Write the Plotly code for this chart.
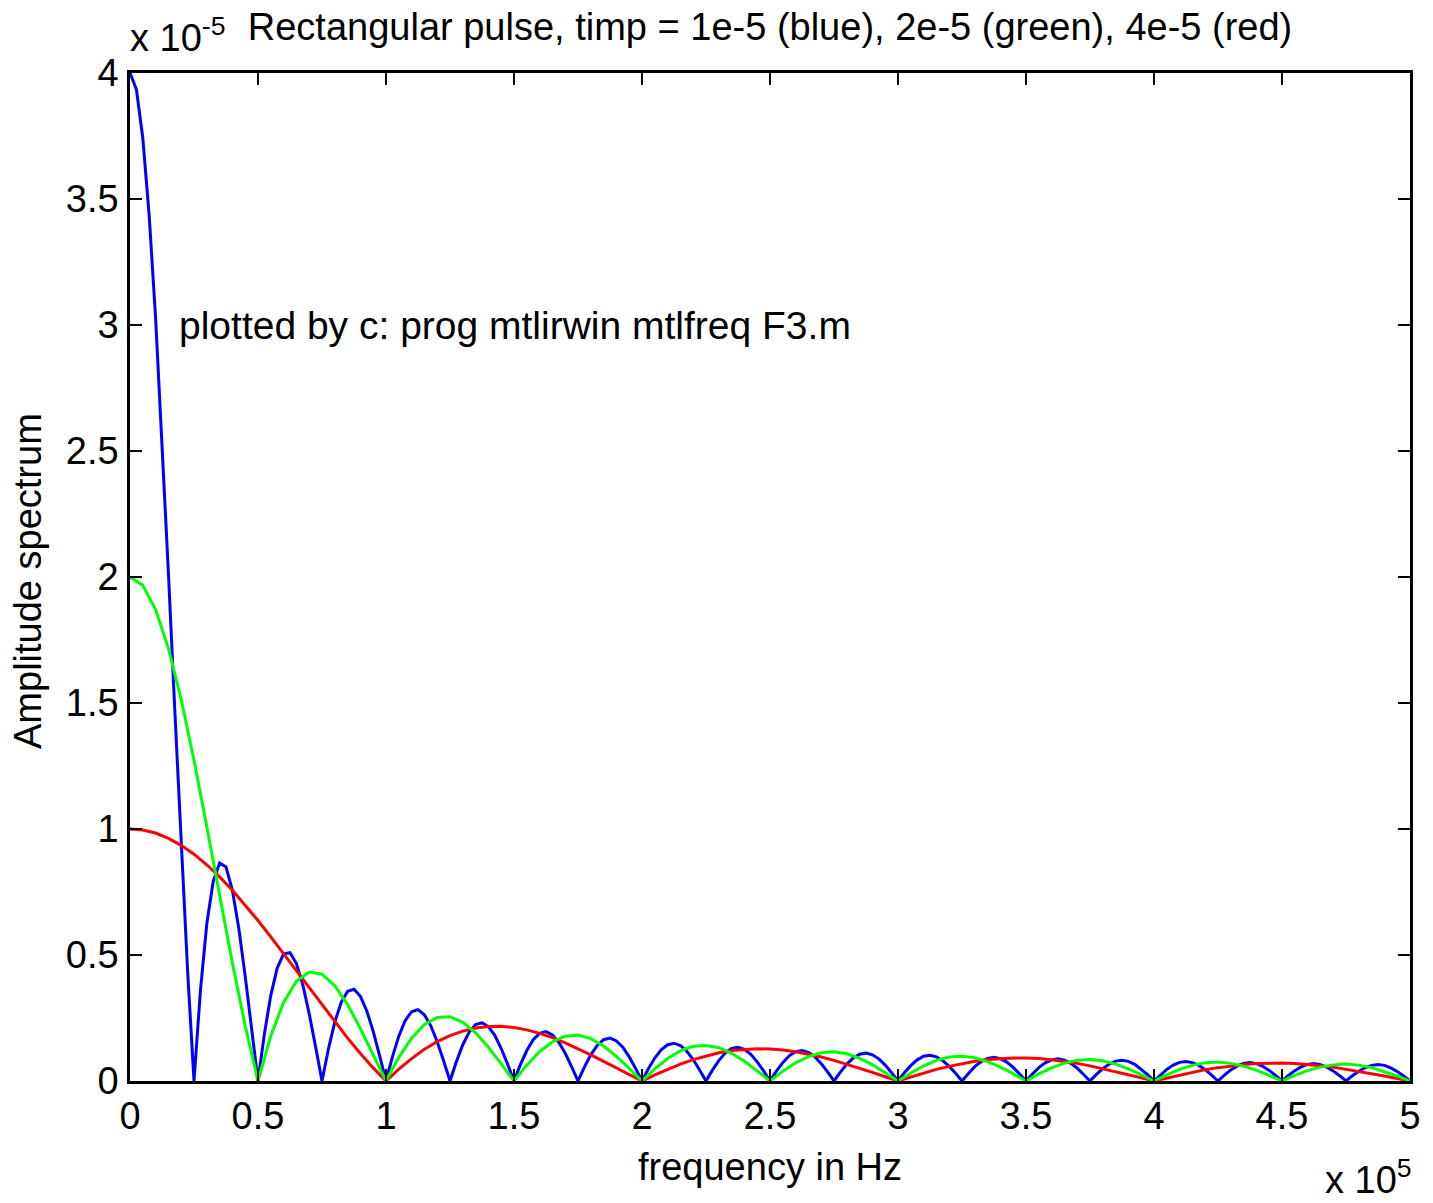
import plotly.graph_objects as go

# ---------------- data (amplitudes in units of 1e-5, frequency in kHz) ----------------
FREQ_STEP_BLUE_KHZ = 2.5
FREQ_STEP_GREEN_KHZ = 5.0
FREQ_STEP_RED_KHZ = 5.0

blue_amp = [
    4.000, 3.935, 3.742, 3.434, 3.027, 2.546, 2.018, 1.472, 0.935, 0.437,
    0.000, 0.358, 0.624, 0.792, 0.865, 0.849, 0.757, 0.606, 0.416, 0.207,
    0.000, 0.187, 0.340, 0.448, 0.505, 0.509, 0.466, 0.382, 0.267, 0.136,
    0.000, 0.127, 0.234, 0.312, 0.356, 0.364, 0.336, 0.278, 0.197, 0.101,
    0.000, 0.096, 0.178, 0.240, 0.275, 0.283, 0.263, 0.219, 0.156, 0.080,
    0.000, 0.077, 0.144, 0.194, 0.224, 0.231, 0.216, 0.181, 0.129, 0.067,
    0.000, 0.065, 0.121, 0.164, 0.189, 0.196, 0.183, 0.154, 0.110, 0.057,
    0.000, 0.055, 0.104, 0.141, 0.164, 0.170, 0.159, 0.134, 0.096, 0.050,
    0.000, 0.049, 0.091, 0.124, 0.144, 0.150, 0.141, 0.118, 0.085, 0.044,
    0.000, 0.043, 0.081, 0.111, 0.129, 0.134, 0.126, 0.106, 0.076, 0.040,
    0.000, 0.039, 0.073, 0.100, 0.116, 0.121, 0.114, 0.096, 0.069, 0.036,
    0.000, 0.035, 0.067, 0.091, 0.106, 0.111, 0.104, 0.088, 0.063, 0.033,
    0.000, 0.033, 0.061, 0.084, 0.098, 0.102, 0.096, 0.081, 0.058, 0.031,
    0.000, 0.030, 0.057, 0.077, 0.090, 0.094, 0.089, 0.075, 0.054, 0.028,
    0.000, 0.028, 0.053, 0.072, 0.084, 0.088, 0.083, 0.070, 0.051, 0.026,
    0.000, 0.026, 0.049, 0.067, 0.079, 0.082, 0.078, 0.066, 0.047, 0.025,
    0.000, 0.024, 0.046, 0.063, 0.074, 0.077, 0.073, 0.062, 0.045, 0.023,
    0.000, 0.023, 0.044, 0.060, 0.070, 0.073, 0.069, 0.058, 0.042, 0.022,
    0.000, 0.022, 0.041, 0.056, 0.066, 0.069, 0.065, 0.055, 0.040, 0.021,
    0.000, 0.021, 0.039, 0.053, 0.062, 0.065, 0.062, 0.052, 0.038, 0.020,
    0.000,
]

green_amp = [
    2.000, 1.967, 1.871, 1.717, 1.514, 1.273, 1.009, 0.736, 0.468, 0.219,
    0.000, 0.179, 0.312, 0.396, 0.432, 0.424, 0.378, 0.303, 0.208, 0.104,
    0.000, 0.094, 0.170, 0.224, 0.252, 0.255, 0.233, 0.191, 0.134, 0.068,
    0.000, 0.063, 0.117, 0.156, 0.178, 0.182, 0.168, 0.139, 0.098, 0.050,
    0.000, 0.048, 0.089, 0.120, 0.138, 0.141, 0.132, 0.110, 0.078, 0.040,
    0.000, 0.039, 0.072, 0.097, 0.112, 0.116, 0.108, 0.090, 0.065, 0.033,
    0.000, 0.032, 0.060, 0.082, 0.095, 0.098, 0.092, 0.077, 0.055, 0.029,
    0.000, 0.028, 0.052, 0.071, 0.082, 0.085, 0.080, 0.067, 0.048, 0.025,
    0.000, 0.024, 0.046, 0.062, 0.072, 0.075, 0.070, 0.059, 0.043, 0.022,
    0.000, 0.022, 0.041, 0.055, 0.064, 0.067, 0.063, 0.053, 0.038, 0.020,
    0.000,
]

red_amp = [
    1.000, 0.996, 0.984, 0.963, 0.935, 0.900, 0.858, 0.810, 0.757, 0.699,
    0.637, 0.572, 0.505, 0.436, 0.368, 0.300, 0.234, 0.170, 0.109, 0.052,
    0.000, 0.047, 0.089, 0.126, 0.156, 0.180, 0.198, 0.210, 0.216, 0.217,
    0.212, 0.203, 0.189, 0.172, 0.151, 0.129, 0.104, 0.078, 0.052, 0.026,
    0.000, 0.024, 0.047, 0.067, 0.085, 0.100, 0.112, 0.121, 0.126, 0.128,
    0.127, 0.123, 0.116, 0.107, 0.095, 0.082, 0.067, 0.051, 0.034, 0.017,
    0.000, 0.016, 0.032, 0.046, 0.058, 0.069, 0.078, 0.085, 0.089, 0.091,
    0.091, 0.089, 0.084, 0.078, 0.070, 0.060, 0.049, 0.038, 0.025, 0.013,
    0.000, 0.012, 0.024, 0.035, 0.045, 0.053, 0.060, 0.065, 0.069, 0.071,
    0.071, 0.069, 0.066, 0.061, 0.055, 0.047, 0.039, 0.030, 0.020, 0.010,
    0.000,
]

freq_blue_khz = [FREQ_STEP_BLUE_KHZ * i for i in range(len(blue_amp))]
freq_green_khz = [FREQ_STEP_GREEN_KHZ * i for i in range(len(green_amp))]
freq_red_khz = [FREQ_STEP_RED_KHZ * i for i in range(len(red_amp))]

x_tick_vals = [0, 0.5, 1, 1.5, 2, 2.5, 3, 3.5, 4, 4.5, 5]
x_tick_text = ["0", "0.5", "1", "1.5", "2", "2.5", "3", "3.5", "4", "4.5", "5"]
y_tick_vals = [0, 0.5, 1, 1.5, 2, 2.5, 3, 3.5, 4]
y_tick_text = ["0", "0.5", "1", "1.5", "2", "2.5", "3", "3.5", "4"]

title_text = "Rectangular pulse, timp = 1e-5 (blue), 2e-5 (green), 4e-5 (red)"
note_text = "plotted by c: prog mtlirwin mtlfreq F3.m"
x_label = "frequency in Hz"
y_label = "Amplitude spectrum"

# ---------------- figure ----------------
FONT = "Liberation Sans, Arial, Helvetica, sans-serif"
FS = 38

def to_e5(freqs_khz):
    return [f / 100.0 for f in freqs_khz]

fig = go.Figure()
fig.add_trace(go.Scatter(x=to_e5(freq_blue_khz), y=blue_amp, mode="lines",
                         line=dict(color="#0000FF", width=3), showlegend=False))
fig.add_trace(go.Scatter(x=to_e5(freq_red_khz), y=red_amp, mode="lines",
                         line=dict(color="#FF0000", width=3), showlegend=False))
fig.add_trace(go.Scatter(x=to_e5(freq_green_khz), y=green_amp, mode="lines",
                         line=dict(color="#00FF00", width=3), showlegend=False))

axis_common = dict(
    ticks="inside", ticklen=12, tickwidth=2, tickcolor="black",
    showline=True, linecolor="black", linewidth=2.5, mirror="ticks",
    showgrid=False, zeroline=False,
    tickfont=dict(family=FONT, size=FS, color="black"),
)

fig.update_layout(
    width=1433, height=1203, autosize=False,
    margin=dict(l=130, r=20, t=73, b=122, pad=0),
    paper_bgcolor="white", plot_bgcolor="white",
    font=dict(family=FONT, size=FS, color="black"),
    title=dict(text=title_text, x=0.5, xref="paper", xanchor="center",
               y=1 - 27 / 1203, yref="container", yanchor="middle",
               font=dict(family=FONT, size=FS, color="black")),
    xaxis=dict(range=[0, 5], tickvals=x_tick_vals, ticktext=x_tick_text,
               ticklabelstandoff=0, **axis_common),
    yaxis=dict(range=[0, 4], tickvals=y_tick_vals, ticktext=y_tick_text,
               ticklabelstandoff=1, **axis_common),
)

fig.add_annotation(text=note_text, x=0.2, y=3.0, xref="x", yref="y",
                   xanchor="left", yanchor="middle", xshift=-4, showarrow=False,
                   font=dict(family=FONT, size=39, color="black"))
fig.add_annotation(text="x 10<sup>-5</sup>", x=0, y=1, xref="paper", yref="paper",
                   xanchor="left", yanchor="bottom", yshift=12, xshift=-2, showarrow=False,
                   font=dict(family=FONT, size=FS, color="black"))
fig.add_annotation(text="x 10<sup>5</sup>", x=1, y=0, xref="paper", yref="paper",
                   xanchor="right", yanchor="top", yshift=-70, xshift=4, showarrow=False,
                   font=dict(family=FONT, size=FS, color="black"))
fig.add_annotation(text=x_label, x=0.5, y=0, xref="paper", yref="paper",
                   xanchor="center", yanchor="middle", yshift=-86, showarrow=False,
                   font=dict(family=FONT, size=FS, color="black"))
fig.add_annotation(text=y_label, x=0, y=0.5, xref="paper", yref="paper",
                   xanchor="center", yanchor="middle", xshift=-102, yshift=-4,
                   textangle=-90, showarrow=False,
                   font=dict(family=FONT, size=FS, color="black"))

fig.write_html("out.html", config={"displayModeBar": False},
               post_script="document.body.style.margin='0';document.body.style.overflow='hidden';")
